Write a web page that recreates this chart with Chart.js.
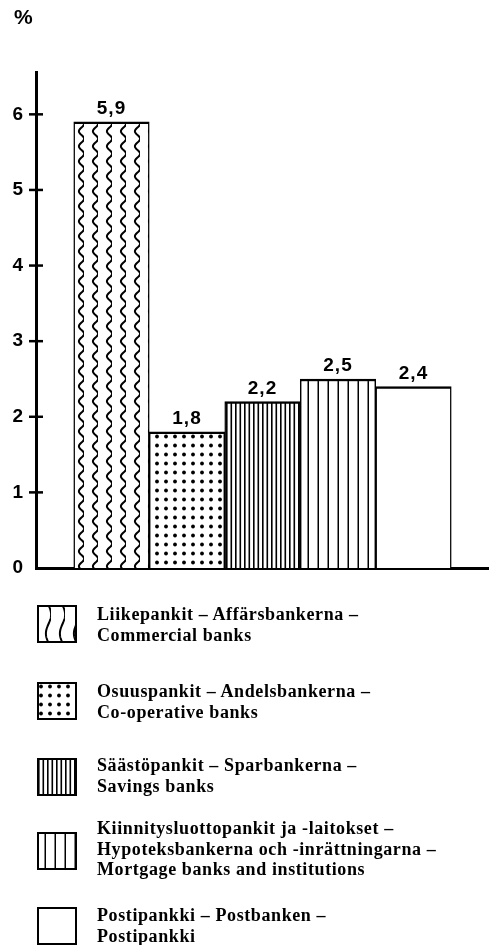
<!DOCTYPE html>
<html lang="en">
<head>
<meta charset="UTF-8">
<title>Banks</title>
<script src="https://cdn.jsdelivr.net/npm/chart.js"></script>
<style>
    body { margin: 0; background: #fff; }
    #wrap { position: relative; width: 489px; height: 945px; overflow: hidden; }
    #chart { position: absolute; left: 0; top: 0; }
    #unit {
        position: absolute; left: 14px; top: 7px;
        font: bold 21px "Liberation Sans", Arial, sans-serif; line-height: 20px;
    }
    .swatch { position: absolute; left: 37px; }
    .entry {
        position: absolute; left: 97px;
        font: bold 18px "Liberation Serif", "Times New Roman", serif;
        letter-spacing: 0.6px;
        line-height: 20.5px; white-space: nowrap; color: #000;
    }
</style>
</head>
<body>
<div id="wrap">
    <canvas id="chart" width="489" height="945"></canvas>
    <span id="unit">%</span>
    <div id="legend"></div>
</div>

<script>
    const names = [
        ['Liikepankit \u2013 Aff\u00e4rsbankerna \u2013', 'Commercial banks'],
        ['Osuuspankit \u2013 Andelsbankerna \u2013', 'Co-operative banks'],
        ['S\u00e4\u00e4st\u00f6pankit \u2013 Sparbankerna \u2013', 'Savings banks'],
        ['Kiinnitysluottopankit ja -laitokset \u2013', 'Hypoteksbankerna och -inr\u00e4ttningarna \u2013', 'Mortgage banks and institutions'],
        ['Postipankki \u2013 Postbanken \u2013', 'Postipankki']
    ];
    const values = [5.9, 1.8, 2.2, 2.5, 2.4];
    const fills = ['wave', 'dots', 'dense', 'lines', 'none'];
    const yTicks = [0, 1, 2, 3, 4, 5, 6];

    // legend placement (swatch top, text top)
    const swatchTop = [605, 682, 758, 832, 907];
    const textTop = [604, 681, 755, 818, 905];

    function makeTile(kind, waveH) {
        const t = document.createElement('canvas');
        const c = t.getContext('2d');
        c.strokeStyle = '#000';
        c.fillStyle = '#000';
        if (kind === 'wave') {
            t.width = 14; t.height = waveH;
            c.lineWidth = 2;
            c.beginPath();
            for (let y = -1; y <= waveH + 1; y += 0.5) {
                const x = 11.5 + 2.6 * Math.sin(2 * Math.PI * y / waveH);
                if (y === -1) c.moveTo(x, y); else c.lineTo(x, y);
            }
            c.stroke();
        } else if (kind === 'dots') {
            t.width = 9; t.height = 9;
            c.beginPath();
            c.arc(4, 4.5, 1.9, 0, Math.PI * 2);
            c.fill();
        } else if (kind === 'dense') {
            t.width = 9; t.height = 4;
            c.fillRect(1, 0, 1.6, 4);
            c.fillRect(5.5, 0, 1.6, 4);
        } else if (kind === 'lines') {
            t.width = 10; t.height = 4;
            c.fillRect(7.5, 0, 1.5, 4);
        } else {
            t.width = 4; t.height = 4;
        }
        return t;
    }

    function patternFor(ctx, kind, waveH) {
        const bg = document.createElement('canvas');
        const tile = makeTile(kind, waveH);
        bg.width = tile.width; bg.height = tile.height;
        const b = bg.getContext('2d');
        b.fillStyle = '#fff';
        b.fillRect(0, 0, bg.width, bg.height);
        b.drawImage(tile, 0, 0);
        return ctx.createPattern(bg, 'repeat');
    }

    const ctx = document.getElementById('chart').getContext('2d');

    const marks = {
        id: 'marks',
        afterDatasetsDraw(chart) {
            const c = chart.ctx;
            const meta = chart.getDatasetMeta(0);
            const ys = chart.scales.y;
            c.save();
            c.fillStyle = '#000';
            c.font = 'bold 19px "Liberation Sans", Arial, sans-serif';
            c.letterSpacing = '1px';
            c.textAlign = 'center';
            c.textBaseline = 'alphabetic';
            meta.data.forEach((bar, i) => {
                c.fillText(values[i].toFixed(1).replace('.', ','), bar.x, bar.y - 8);
            });
            c.strokeStyle = '#000';
            c.lineWidth = 2.5;
            yTicks.forEach(v => {
                if (v === 0) return;
                const py = ys.getPixelForValue(v);
                c.beginPath();
                c.moveTo(ys.right - 7, py);
                c.lineTo(ys.right + 7, py);
                c.stroke();
            });
            c.restore();
        }
    };

    new Chart(ctx, {
        type: 'bar',
        data: {
            datasets: [{
                data: values.map((v, i) => ({ x: i + 1, y: v })),
                backgroundColor: fills.map(f => patternFor(ctx, f, 15)),
                borderColor: '#000',
                borderWidth: { top: 2.5, left: 1.5, right: 1.5, bottom: 0 },
                borderSkipped: false,
                barPercentage: 1,
                categoryPercentage: 1
            }]
        },
        options: {
            responsive: false,
            animation: false,
            layout: { padding: { top: 72, bottom: 377, left: 0, right: 0 } },
            plugins: { legend: { display: false }, tooltip: { enabled: false } },
            scales: {
                x: {
                    type: 'linear', min: 0, max: 6, offset: false,
                    ticks: { display: false },
                    grid: { display: false, drawTicks: false },
                    border: { display: true, color: '#000', width: 3 },
                    afterFit: s => { s.height = 0; }
                },
                y: {
                    min: 0, max: 6.56,
                    afterBuildTicks: s => { s.ticks = yTicks.map(v => ({ value: v })); },
                    ticks: {
                        padding: 13, color: '#000',
                        font: { family: '"Liberation Sans", Arial, sans-serif', size: 19, weight: 'bold' }
                    },
                    grid: { display: false, drawTicks: false },
                    border: { display: true, color: '#000', width: 3 },
                    afterFit: s => { s.width = 36; }
                }
            }
        },
        plugins: [marks]
    });

    // legend below the chart
    const legend = document.getElementById('legend');
    names.forEach((lines, i) => {
        const sw = document.createElement('canvas');
        sw.width = 40; sw.height = 38;
        sw.className = 'swatch';
        sw.style.top = swatchTop[i] + 'px';
        const sc = sw.getContext('2d');
        sc.fillStyle = patternFor(sc, fills[i], 38);
        sc.fillRect(0, 0, 40, 38);
        sc.strokeStyle = '#000';
        sc.lineWidth = 2;
        sc.strokeRect(1, 1, 38, 36);
        legend.appendChild(sw);

        const tx = document.createElement('div');
        tx.className = 'entry';
        tx.style.top = textTop[i] + 'px';
        tx.innerHTML = lines.join('<br>');
        legend.appendChild(tx);
    });
</script>
</body>
</html>
